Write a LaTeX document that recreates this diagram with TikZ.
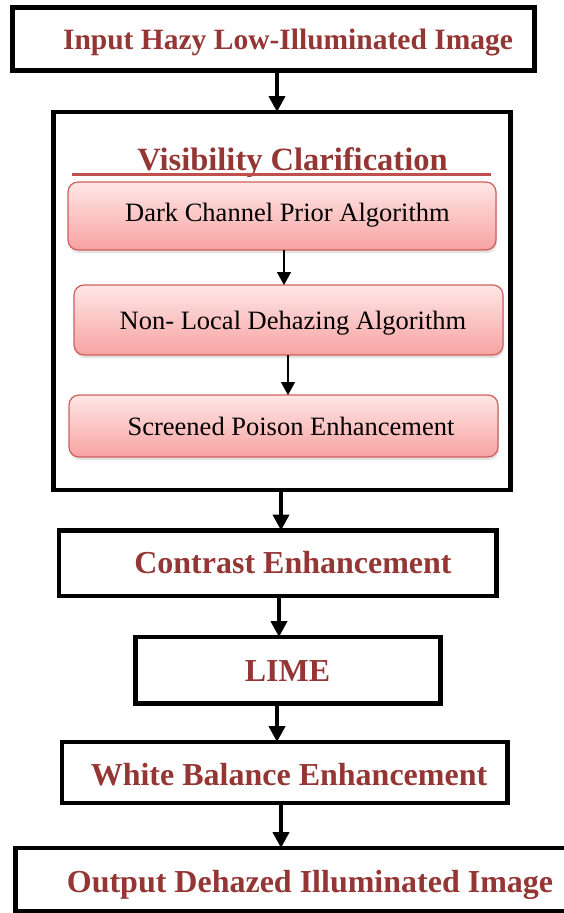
\documentclass[tikz,border=0pt]{standalone}
\usepackage{fontspec}
\setmainfont{Liberation Serif}
\usetikzlibrary{arrows.meta,shadows}
\definecolor{titlered}{HTML}{943634}
\definecolor{accentred}{HTML}{C0504D}
\definecolor{pinktop}{HTML}{FFE6E6}
\definecolor{pinkbot}{HTML}{F7A3A2}
\definecolor{pinkedge}{HTML}{CF5F5D}

\begin{document}
\begin{tikzpicture}[x=1pt,y=-1pt,
  stagebox/.style={draw=black, line width=4.5pt, outer sep=0pt, inner sep=0pt},
  algbox/.style={draw=pinkedge, line width=1.2pt, rounded corners=10pt,
    top color=pinktop, bottom color=pinkbot, outer sep=0pt, inner sep=0pt,
    drop shadow={shadow xshift=1pt, shadow yshift=-3pt, opacity=0.22}},
  stagetext/.style={anchor=base, text=titlered, inner sep=0pt,
    font=\bfseries\fontsize{32}{36}\selectfont},
  algtext/.style={anchor=base, inner sep=0pt, font=\fontsize{26.5}{30}\selectfont},
  bigarrow/.style={line width=4.5pt, -{Triangle[width=16pt,length=16pt]}},
  smallarrow/.style={line width=1.5pt, -{Triangle[width=14pt,length=13pt]}},
]
\useasboundingbox (0,0) rectangle (564,913);
\clip (0,0) rectangle (564,913);

% outer pipeline stages
\node[stagebox, minimum width=522pt, minimum height=63pt] (in) at (273.5,39) {};
\node[stagebox, minimum width=457pt, minimum height=378pt] (vis) at (282,301) {};
\node[stagebox, minimum width=437.5pt, minimum height=65.5pt] (ce) at (277.75,563.25) {};
\node[stagebox, minimum width=305pt, minimum height=66.5pt] (lime) at (288,670.25) {};
\node[stagebox, minimum width=445.5pt, minimum height=61pt] (wb) at (284.75,772.5) {};
\node[stagebox, minimum width=584.5pt, minimum height=63pt] (out) at (307.75,879.5) {};

% steps inside the visibility block
\node[algbox, minimum width=428pt, minimum height=68pt] (dcp) at (282,216) {};
\node[algbox, minimum width=429pt, minimum height=70pt] (nl) at (288.5,320) {};
\node[algbox, minimum width=429pt, minimum height=62pt] (sp) at (283.5,426) {};

% labels
\node[stagetext, font=\bfseries\fontsize{29.5}{34}\selectfont] (tin) at (288,49) {Input Hazy Low-Illuminated Image};
\node[stagetext, font=\bfseries\fontsize{32.5}{36}\selectfont] (tvis) at (292.5,170) {Visibility Clarification};
\node[algtext] (tdcp) at (287.5,221) {Dark Channel Prior Algorithm};
\node[algtext] (tnl) at (293,329) {Non- Local Dehazing Algorithm};
\node[algtext] (tsp) at (291,435) {Screened Poison Enhancement};
\node[stagetext] (tce) at (293,573) {Contrast Enhancement};
\node[stagetext] (tlime) at (287.5,681) {LIME};
\node[stagetext] (twb) at (289,785) {White Balance Enhancement};
\node[stagetext] (tout) at (310,892) {Output Dehazed Illuminated Image};

% underline of the block title
\coordinate (ul1) at (72,174.5);
\coordinate (ul2) at (491,174.5);
\draw[accentred, line width=3.5pt] (ul1) -- (ul2);

% arrow columns
\coordinate (a1) at (277,0);
\coordinate (a2) at (281,0);
\coordinate (a3) at (279,0);
\coordinate (a4) at (277,0);
\coordinate (a5) at (281,0);
\coordinate (b1) at (284,0);
\coordinate (b2) at (288,0);

\draw[bigarrow] (in.south -| a1) -- (vis.north -| a1);
\draw[bigarrow] (vis.south -| a2) -- (ce.north -| a2);
\draw[bigarrow] (ce.south -| a3) -- (lime.north -| a3);
\draw[bigarrow] (lime.south -| a4) -- (wb.north -| a4);
\draw[bigarrow] (wb.south -| a5) -- (out.north -| a5);
\draw[smallarrow] (dcp.south -| b1) -- (nl.north -| b1);
\draw[smallarrow] (nl.south -| b2) -- (sp.north -| b2);
\end{tikzpicture}
\end{document}
